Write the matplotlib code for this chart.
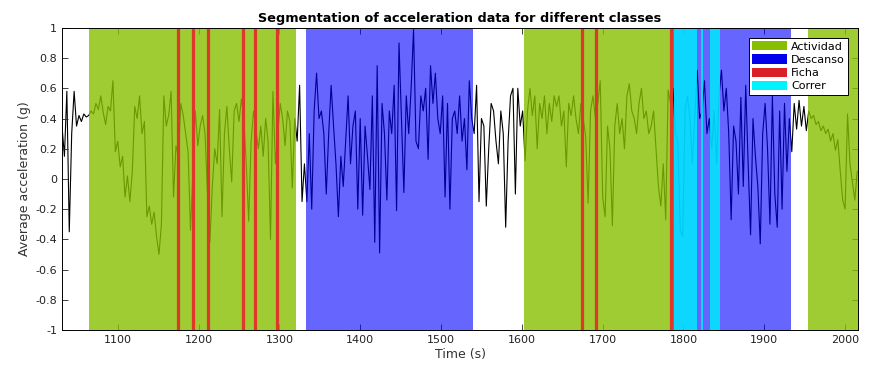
import numpy as np
import matplotlib
matplotlib.use("Agg")
import matplotlib.pyplot as plt
from matplotlib.patches import Patch

# ---- data ----
t_start = 1031
t_step = 3
accel_g = [
    0.35, 0.15, 0.58, -0.35, 0.30, 0.58, 0.35, 0.42, 0.38, 0.43,      # 1031
    0.41, 0.42, 0.45, 0.43, 0.50, 0.46, 0.55, 0.44, 0.36, 0.48,       # 1061
    0.45, 0.65, 0.18, 0.25, 0.08, 0.15, -0.12, 0.02, -0.15, 0.05,     # 1091
    0.48, 0.40, 0.55, 0.30, 0.38, -0.25, -0.18, -0.30, -0.22, -0.38,  # 1121
    -0.50, -0.30, 0.55, 0.35, 0.42, 0.58, -0.12, 0.22, 0.15, 0.50,    # 1151
    0.42, 0.30, 0.18, -0.34, 0.05, 0.45, 0.22, 0.35, 0.42, 0.30,      # 1181
    -0.10, -0.42, -0.05, 0.20, 0.10, 0.46, -0.25, 0.30, 0.48, 0.20,   # 1211
    -0.02, 0.45, 0.50, 0.38, 0.53, 0.40, 0.10, -0.28, 0.25, 0.45,     # 1241
    0.32, 0.20, 0.35, 0.15, 0.40, 0.25, -0.40, 0.58, 0.10, 0.30,      # 1271
    0.50, 0.40, 0.22, 0.45, 0.38, -0.06, 0.40, 0.25, 0.62, -0.15,     # 1301
    0.10, -0.15, 0.30, -0.20, 0.45, 0.70, 0.40, 0.45, 0.30, -0.10,    # 1331
    0.30, 0.62, 0.35, 0.10, -0.25, 0.15, -0.05, 0.25, 0.55, 0.10,     # 1361
    0.35, 0.45, -0.20, 0.40, -0.24, 0.35, 0.15, -0.07, 0.55, -0.42,   # 1391
    0.75, -0.49, 0.50, 0.30, -0.14, 0.45, 0.30, 0.62, -0.21, 0.90,    # 1421
    0.40, -0.09, 0.55, 0.30, 0.60, 0.99, 0.25, 0.20, 0.55, 0.45,      # 1451
    0.60, 0.13, 0.75, 0.50, 0.70, 0.40, 0.30, 0.55, -0.12, 0.50,      # 1481
    -0.20, 0.40, 0.45, 0.30, 0.55, 0.25, 0.40, 0.06, 0.65, 0.40,      # 1511
    0.30, 0.62, -0.15, 0.40, 0.35, -0.18, 0.20, 0.50, 0.45, 0.25,     # 1541
    0.10, 0.45, 0.30, -0.32, 0.25, 0.55, 0.60, -0.10, 0.60, 0.35,     # 1571
    0.45, 0.12, 0.45, 0.60, 0.42, 0.55, 0.20, 0.50, 0.40, 0.55,       # 1601
    0.30, 0.50, 0.38, 0.55, 0.48, 0.55, 0.35, 0.45, 0.08, 0.50,       # 1631
    0.42, 0.55, 0.40, 0.30, 0.50, 0.40, 0.28, -0.16, 0.45, 0.55,      # 1661
    0.40, 0.50, 0.65, -0.12, -0.25, 0.35, 0.20, -0.31, 0.35, 0.50,    # 1691
    0.30, 0.40, 0.20, 0.55, 0.63, 0.45, 0.40, 0.30, 0.50, 0.60,       # 1721
    0.40, 0.45, 0.30, 0.35, 0.45, 0.20, -0.05, -0.18, 0.10, -0.27,    # 1751
    0.59, 0.50, 0.60, 0.30, 0.25, -0.34, -0.38, 0.45, 0.55, 0.40,     # 1781
    0.10, 0.40, 0.72, 0.40, 0.45, 0.65, 0.30, 0.40, 0.20, 0.45,       # 1811
    0.10, 0.55, 0.72, 0.45, 0.60, 0.30, -0.27, 0.35, 0.25, -0.10,     # 1841
    0.54, -0.05, 0.62, 0.10, -0.37, 0.40, 0.15, -0.05, -0.43, 0.30,   # 1871
    0.50, 0.20, -0.30, 0.55, -0.10, -0.32, 0.45, -0.20, 0.50, 0.05,   # 1901
    0.40, 0.18, 0.50, 0.33, 0.52, 0.35, 0.48, 0.32, 0.45, 0.40,       # 1931
    0.42, 0.36, 0.38, 0.32, 0.35, 0.30, 0.33, 0.25, 0.30, 0.19,       # 1961
    0.26, 0.05, -0.14, -0.20, 0.43, 0.10, -0.02, -0.14, 0.05,         # 1991
]

actividad_spans = [(1064, 1321), (1603, 1786), (1954, 2016)]
descanso_spans = [(1333, 1540), (1786, 1933)]
correr_spans = [(1788, 1816.5), (1822, 1824), (1832.5, 1845)]
ficha_times = [1175, 1193, 1212, 1255, 1270, 1297, 1674, 1692, 1785]

class_labels = ["Actividad", "Descanso", "Ficha", "Correr"]

# ---- style ----
c_act = (0.53, 0.75, 0.0)
c_des = (0.0, 0.0, 1.0)
c_fic = (0.86, 0.12, 0.15)
c_cor = (0.0, 0.91, 1.0)

fig = plt.figure(figsize=(8.72, 3.72), dpi=100)
ax = fig.add_axes([0.0711, 0.113, 0.9129, 0.812])

time_s = t_start + t_step * np.arange(len(accel_g))
ax.plot(time_s, accel_g, color="black", lw=0.8, zorder=1)

for a, b in actividad_spans:
    ax.axvspan(a, b, color=c_act, alpha=0.8, lw=0, zorder=2)
for a, b in descanso_spans:
    ax.axvspan(a, b, color=c_des, alpha=0.6, lw=0, zorder=2)
for a, b in correr_spans:
    ax.axvspan(a, b, color=c_cor, alpha=0.87, lw=0, zorder=3)
for x in ficha_times:
    ax.axvline(x, color=(0.87, 0.22, 0.17), lw=2.3, zorder=4)

ax.set_xlim(1031, 2016)
ax.set_ylim(-1, 1)
ax.set_xticks([1100, 1200, 1300, 1400, 1500, 1600, 1700, 1800, 1900, 2000])
ax.set_yticks(np.round(np.arange(-1, 1.01, 0.2), 1))
ax.set_yticklabels(["-1", "-0.8", "-0.6", "-0.4", "-0.2", "0", "0.2", "0.4", "0.6", "0.8", "1"])
ax.tick_params(direction="in", top=True, right=True, labelsize=8, length=4,
               width=0.6, colors="#222222", labelcolor="#222222")
for s in ax.spines.values():
    s.set_linewidth(0.7)
    s.set_zorder(6)

ax.set_title("Segmentation of acceleration data for different classes",
             fontsize=9.3, fontweight="bold", pad=4)
ax.set_xlabel("Time (s)", fontsize=9, labelpad=2, color="#333333")
ax.set_ylabel("Average acceleration (g)", fontsize=9, labelpad=3, color="#333333")

handles = [Patch(facecolor=c_act, edgecolor="none"),
           Patch(facecolor=(0.0, 0.0, 0.92), edgecolor="none"),
           Patch(facecolor=c_fic, edgecolor="none"),
           Patch(facecolor=(0.0, 0.95, 1.0), edgecolor="none")]
leg = ax.legend(handles, class_labels, loc="upper right", fontsize=8,
                fancybox=False, framealpha=1, edgecolor="black",
                handlelength=3.1, handleheight=0.9, labelspacing=0.25,
                handletextpad=0.4, borderpad=0.3, borderaxespad=0.9)
leg.get_frame().set_linewidth(0.7)
leg.set_zorder(10)

fig.savefig("out.png", dpi=100)
